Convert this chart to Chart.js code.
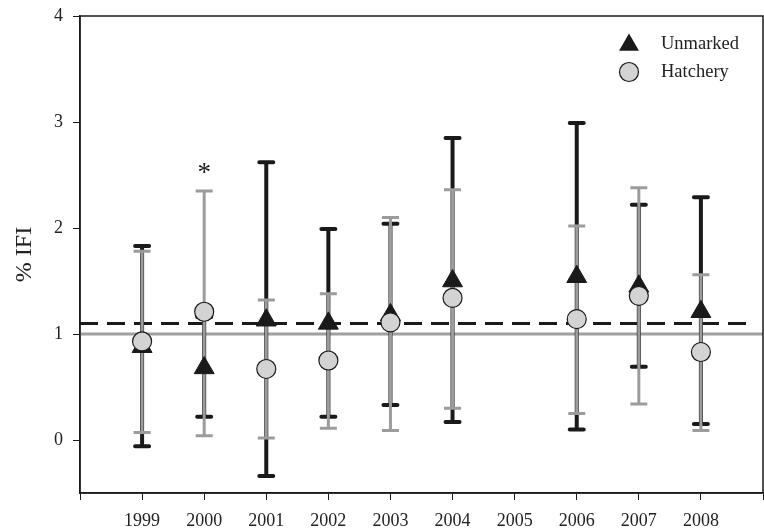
<!DOCTYPE html>
<html>
<head>
<meta charset="utf-8">
<script src="https://cdn.jsdelivr.net/npm/chart.js@4"></script>
<style>
  html, body { margin: 0; padding: 0; background: #fff; }
  canvas { display: block; }
</style>
</head>
<body>
<canvas id="ifi" width="764" height="532"></canvas>
<script>
// % IFI by year, unmarked vs hatchery fish
const years = [1999, 2000, 2001, 2002, 2003, 2004, 2006, 2007, 2008];
const tickYears = [1999, 2000, 2001, 2002, 2003, 2004, 2005, 2006, 2007, 2008];

const unmarkedMean = [0.88, 0.68, 1.13, 1.10, 1.18, 1.50, 1.54, 1.45, 1.21];
const unmarkedLow  = [-0.06, 0.22, -0.34, 0.22, 0.33, 0.17, 0.10, 0.69, 0.15];
const unmarkedHigh = [1.83, 1.16, 2.62, 1.99, 2.04, 2.85, 2.99, 2.22, 2.29];

const hatcheryMean = [0.93, 1.21, 0.67, 0.75, 1.11, 1.34, 1.14, 1.36, 0.83];
const hatcheryLow  = [0.07, 0.04, 0.02, 0.11, 0.09, 0.30, 0.25, 0.34, 0.09];
const hatcheryHigh = [1.78, 2.35, 1.32, 1.38, 2.10, 2.36, 2.02, 2.38, 1.56];

// reference lines and the significance mark
const unmarkedRef = 1.1;
const hatcheryRef = 1.0;
const starYear = 2000;
const starValue = 2.55;

const serif = "'Liberation Serif', 'DejaVu Serif', serif";
const ink = '#1a1a1a';
const grey = '#a0a0a0';

function errorBars(ctx, xs, ys, lo, hi, color, width, capHalf, round) {
  ctx.save();
  ctx.strokeStyle = color;
  ctx.lineWidth = width;
  for (let i = 0; i < years.length; i++) {
    const x = xs.getPixelForValue(years[i]);
    const y1 = ys.getPixelForValue(lo[i]);
    const y2 = ys.getPixelForValue(hi[i]);
    ctx.lineCap = 'butt';
    ctx.beginPath();
    ctx.moveTo(x, y1);
    ctx.lineTo(x, y2);
    ctx.stroke();
    ctx.lineCap = round ? 'round' : 'butt';
    ctx.beginPath();
    ctx.moveTo(x - capHalf, y1); ctx.lineTo(x + capHalf, y1);
    ctx.moveTo(x - capHalf, y2); ctx.lineTo(x + capHalf, y2);
    ctx.stroke();
  }
  ctx.restore();
}

const extras = {
  id: 'extras',
  beforeDatasetsDraw(chart) {
    const {ctx, chartArea: a, scales: {x, y}} = chart;
    ctx.save();
    // hatchery reference
    ctx.strokeStyle = grey;
    ctx.lineWidth = 3;
    ctx.beginPath();
    ctx.moveTo(a.left, y.getPixelForValue(hatcheryRef));
    ctx.lineTo(a.right, y.getPixelForValue(hatcheryRef));
    ctx.stroke();
    // unmarked reference (dashed)
    ctx.strokeStyle = ink;
    ctx.setLineDash([18, 9]);
    ctx.beginPath();
    ctx.moveTo(a.left, y.getPixelForValue(unmarkedRef));
    ctx.lineTo(a.right - 8, y.getPixelForValue(unmarkedRef));
    ctx.stroke();
    ctx.restore();

    errorBars(ctx, x, y, unmarkedLow, unmarkedHigh, ink, 4, 7, true);
    errorBars(ctx, x, y, hatcheryLow, hatcheryHigh, '#9c9c9c', 3, 8.5, false);
  },
  afterDraw(chart) {
    const {ctx, chartArea: a, scales: {x, y}} = chart;
    ctx.save();
    // frame
    ctx.strokeStyle = ink;
    ctx.lineWidth = 1.5;
    ctx.strokeRect(a.left, a.top, a.right - a.left, a.bottom - a.top);

    // asterisk
    ctx.fillStyle = ink;
    ctx.font = '27px ' + serif;
    ctx.textAlign = 'center';
    ctx.textBaseline = 'middle';
    ctx.fillText('*', x.getPixelForValue(starYear), y.getPixelForValue(starValue) + 4);

    // legend
    const lx = 629, tx = 661;
    ctx.fillStyle = ink;
    ctx.beginPath();
    const r = 11.5, cy = 45;
    ctx.moveTo(lx, cy - r);
    ctx.lineTo(lx + r * 0.866, cy + r / 2);
    ctx.lineTo(lx - r * 0.866, cy + r / 2);
    ctx.closePath();
    ctx.fill();

    ctx.beginPath();
    ctx.arc(lx, 72, 9.5, 0, Math.PI * 2);
    ctx.fillStyle = '#d3d3d3';
    ctx.fill();
    ctx.lineWidth = 1.2;
    ctx.strokeStyle = ink;
    ctx.stroke();

    ctx.fillStyle = '#222';
    ctx.font = '18.5px ' + serif;
    ctx.textAlign = 'left';
    ctx.fillText('Unmarked', tx, 44);
    ctx.fillText('Hatchery', tx, 72);
    ctx.restore();
  }
};

new Chart(document.getElementById('ifi'), {
  type: 'scatter',
  data: {
    datasets: [{
      label: 'Unmarked',
      data: years.map((yr, i) => ({x: yr, y: unmarkedMean[i]})),
      pointStyle: 'triangle',
      pointRadius: 11.5,
      backgroundColor: ink,
      borderColor: ink,
      borderWidth: 1,
      order: 2
    }, {
      label: 'Hatchery',
      data: years.map((yr, i) => ({x: yr, y: hatcheryMean[i]})),
      pointStyle: 'circle',
      pointRadius: 9.5,
      backgroundColor: '#d3d3d3',
      borderColor: ink,
      borderWidth: 1.2,
      order: 1
    }]
  },
  options: {
    responsive: false,
    animation: false,
    layout: { autoPadding: false, padding: { top: 16, right: 1, left: 0, bottom: 0 } },
    plugins: { legend: { display: false }, tooltip: { enabled: false } },
    scales: {
      x: {
        type: 'linear',
        min: 1998,
        max: 2009,
        afterFit(s) { s.height = 39; s.paddingLeft = 0; s.paddingRight = 0; },
        afterBuildTicks(s) {
          s.ticks = [1998].concat(tickYears, [2009]).map(v => ({value: v}));
        },
        ticks: {
          color: '#222',
          font: { family: serif, size: 18 },
          padding: 10,
          maxRotation: 0,
          autoSkip: false,
          callback: v => tickYears.includes(v) ? String(v) : ''
        },
        grid: { display: true, drawOnChartArea: false, drawTicks: true, tickLength: 7, color: ink },
        border: { display: true, color: ink, width: 1.5 }
      },
      y: {
        min: -0.5,
        max: 4,
        afterFit(s) { s.width = 80; s.paddingTop = 0; s.paddingBottom = 0; },
        afterBuildTicks(s) {
          s.ticks = [0, 1, 2, 3, 4].map(v => ({value: v}));
        },
        ticks: {
          color: '#222',
          font: { family: serif, size: 18 },
          padding: 10
        },
        title: {
          display: true,
          text: '% IFI',
          color: '#222',
          font: { family: serif, size: 24 },
          padding: { top: 10, bottom: 0 }
        },
        grid: { display: true, drawOnChartArea: false, drawTicks: true, tickLength: 7, color: ink },
        border: { display: true, color: ink, width: 1.5 }
      }
    }
  },
  plugins: [extras]
});
</script>
</body>
</html>
